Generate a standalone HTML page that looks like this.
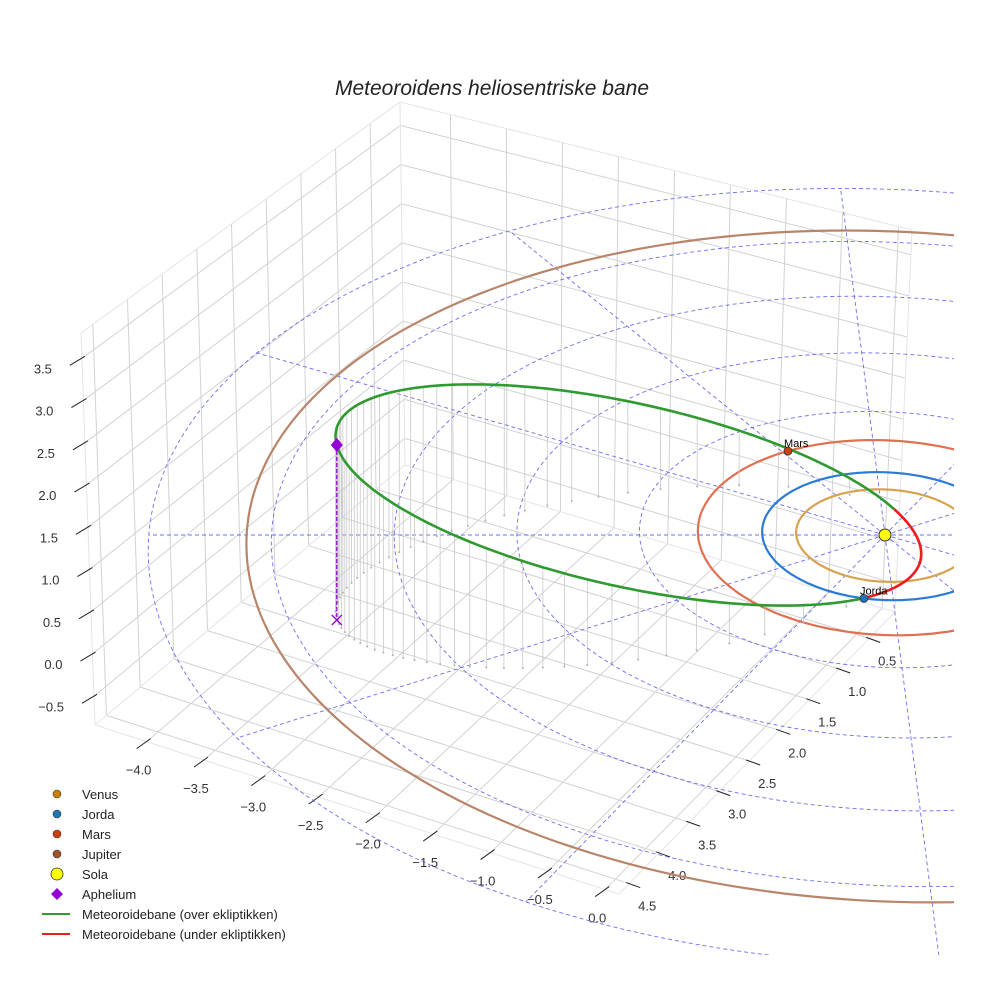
<!DOCTYPE html>
<html><head><meta charset="utf-8">
<style>
html,body{margin:0;padding:0;background:#fff;}
svg{display:block;font-family:"Liberation Sans",sans-serif;}
</style></head>
<body>
<svg id="chart" width="984" height="984" viewBox="0 0 984 984" xmlns="http://www.w3.org/2000/svg">
<defs><clipPath id="plotclip"><rect x="0" y="0" width="954" height="955"/></clipPath></defs>
<text x="492" y="95" text-anchor="middle" font-size="21" font-style="italic" fill="#222">Meteoroidens heliosentriske bane</text>
<g id="box"></g>
<g id="plot" clip-path="url(#plotclip)"></g>
<g id="legend"></g>
</svg>
<script>
// ---- data ----
const planetNames = ["Venus","Jorda","Mars","Jupiter"];
const planetRadii = [0.723, 1.0, 1.524, 5.203];
const planetAngles = [331, 103.5, 241.8, 10];
const planetColors = ["#c8800a","#1f77b4","#cc4010","#a0522d"];
const orbitColors = ["#d6a24e","#2b7bd6","#e07050","#b8856a"];
const gridRadii = [1,2,3,4,5,6];
const gridAngles = [0,30,60,90,120,150,180,210,240,270,300,330];
const aphelionPos = [-4.45, 1.297, 2.01];
const nodePos = [-0.233, 0.967, 0];
const xTicks = [-4.0,-3.5,-3.0,-2.5,-2.0,-1.5,-1.0,-0.5,0.0];
const yTicks = [0.5,1.0,1.5,2.0,2.5,3.0,3.5,4.0,4.5];
const zTicks = [-0.5,0.0,0.5,1.0,1.5,2.0,2.5,3.0,3.5];
const xLim=[-4.45,0.12], yLim=[0.07,4.67], zLim=[-0.84,3.8];

const NS="http://www.w3.org/2000/svg";
function mk(tag, attrs, parent){const e=document.createElementNS(NS,tag);for(const k in attrs)e.setAttribute(k,attrs[k]);parent.appendChild(e);return e;}
const box=document.getElementById('box'), plot=document.getElementById('plot'), legend=document.getElementById('legend');

// ---- box (screen-space corners) ----
const A=[95,725],At=[81,333],D=[405,465],Dt=[400,102],F=[619,894],E=[895,612],Et=[912,230];
const L=(p,q,t)=>[p[0]+(q[0]-p[0])*t,p[1]+(q[1]-p[1])*t];
const ux=x=>(x-xLim[0])/(xLim[1]-xLim[0]);
const vy=y=>(yLim[1]-y)/(yLim[1]-yLim[0]);
const tz=z=>(z-zLim[0])/(zLim[1]-zLim[0]);
function line(p,q,st,w,parent,name){const l=mk('line',{x1:p[0],y1:p[1],x2:q[0],y2:q[1],stroke:st,'stroke-width':w},parent);return l;}
const gc="#d2d2d2";
xTicks.forEach(x=>{const u=ux(x);line(L(A,F,u),L(D,E,u),gc,1,box,'floor-grid-x');});
yTicks.forEach(y=>{const v=vy(y);line(L(A,D,v),L(F,E,v),gc,1,box,'floor-grid-y');});
yTicks.forEach(y=>{const v=vy(y);line(L(A,D,v),L(At,Dt,v),gc,1,box,'left-wall-grid-y');});
zTicks.forEach(z=>{const t=tz(z);line(L(A,At,t),L(D,Dt,t),gc,1,box,'left-wall-grid-z');});
xTicks.forEach(x=>{const u=ux(x);line(L(D,E,u),L(Dt,Et,u),gc,1,box,'back-wall-grid-x');});
zTicks.forEach(z=>{const t=tz(z);line(L(D,Dt,t),L(E,Et,t),gc,1,box,'back-wall-grid-z');});
[[A,F],[F,E],[A,At],[At,Dt],[Dt,Et],[E,Et],[A,D],[D,E],[D,Dt]].forEach(p=>line(p[0],p[1],"#e4e4e4",1,box,'box-edge'));
function label(x,y,txt,anchor,name){const t=mk('text',{x:x,y:y,'font-size':13,fill:'#333','text-anchor':anchor},box);t.textContent=txt;}
const fmt=v=>(v<0?'\u2212':'')+Math.abs(v).toFixed(1);
xTicks.forEach(x=>{const p=L(A,F,ux(x));line([p[0]+4,p[1]-3],[p[0]-10,p[1]+7],"#222",1,box,'x-tick');label(p[0]-8,p[1]+33,fmt(x),'middle','x-tick-label');});
yTicks.forEach(y=>{const p=L(F,E,vy(y));line([p[0]-3,p[1]-1],[p[0]+11,p[1]+4],"#222",1,box,'y-tick');label(p[0]+18,p[1]+27,fmt(y),'middle','y-tick-label');});
zTicks.forEach(z=>{const p=L(A,At,tz(z));line([p[0]+3,p[1]-2],[p[0]-12,p[1]+7],"#222",1,box,'z-tick');label(p[0]-30,p[1]+15,fmt(z),'end','z-tick-label');});

// ---- ecliptic projection ----
const SX=885,SY=535,kx=122.7,ky=64,kz=85,pp=0.018,shear=0.128;
function proj(X,Y,Z){const w=1/(1-pp*Y);return [SX+kx*X*w+shear*ky*Y*w, SY+ky*Y*w-kz*(Z||0)*w];}
function pathFrom(pts){return pts.map((p,i)=>(i?'L':'M')+p[0].toFixed(1)+' '+p[1].toFixed(1)).join(' ');}
function circlePts(r){const a=[];for(let i=0;i<=240;i++){const t=i/240*2*Math.PI;a.push(proj(r*Math.cos(t),r*Math.sin(t),0));}return a;}
gridRadii.forEach(r=>{const p=mk('path',{d:pathFrom(circlePts(r)),fill:'none',stroke:'#5555ee','stroke-width':0.9,'stroke-dasharray':'4 3',opacity:0.85},plot);
});
const rMax=gridRadii[gridRadii.length-1];
gridAngles.forEach(a=>{const t=a*Math.PI/180;const pts=[];for(let i=0;i<=40;i++){const r=rMax*i/40;pts.push(proj(r*Math.cos(t),r*Math.sin(t),0));}
const p=mk('path',{d:pathFrom(pts),fill:'none',stroke:'#5555ee','stroke-width':0.9,'stroke-dasharray':'4 3',opacity:0.85},plot);
});
planetRadii.forEach((r,i)=>{const p=mk('path',{d:pathFrom(circlePts(r)),fill:'none',stroke:orbitColors[i],'stroke-width':2.2},plot);
});

// ---- meteoroid orbit ----
const Qd=Math.hypot(...aphelionPos);
const Ah=aphelionPos.map(v=>v/Qd), P=Ah.map(v=>-v);
const nl=Math.hypot(...nodePos), nh=nodePos.map(v=>v/nl), rn=nl;
const cn=nh[0]*P[0]+nh[1]*P[1]+nh[2]*P[2];
const ecc=(Qd-rn)/(Qd+rn*cn), semiP=Qd*(1-ecc);
let Qv=nh.map((v,i)=>v-cn*P[i]);const ql=Math.hypot(...Qv);Qv=Qv.map(v=>v/ql);
function orbitPt(nu){const r=semiP/(1+ecc*Math.cos(nu));return [0,1,2].map(i=>r*(Math.cos(nu)*P[i]+Math.sin(nu)*Qv[i]));}
const N=720;let seg=null;const segs=[];let prevAbove=null;
for(let i=0;i<=N;i++){const nu=-Math.PI+2*Math.PI*i/N;const q=orbitPt(nu);const above=q[2]>=0;
 if(seg&&prevAbove!==null&&above!==prevAbove){seg.pts.push(proj(...q));segs.push(seg);seg=null;}
 if(!seg)seg={above:above,pts:[]};seg.pts.push(proj(...q));prevAbove=above;}
if(seg)segs.push(seg);
const nDrop=64;
for(let k=0;k<nDrop;k++){const M=2*Math.PI*k/nDrop;let Ea=M;for(let j=0;j<30;j++)Ea=Ea-(Ea-ecc*Math.sin(Ea)-M)/(1-ecc*Math.cos(Ea));
 const nu=2*Math.atan2(Math.sqrt(1+ecc)*Math.sin(Ea/2),Math.sqrt(1-ecc)*Math.cos(Ea/2));const q=orbitPt(nu);if(q[2]<=0.02)continue;
 const a=proj(...q),b=proj(q[0],q[1],0);
 const l=mk('line',{x1:a[0],y1:a[1],x2:b[0],y2:b[1],stroke:'#c8c8c8','stroke-width':0.8},plot);
 
 
 const d=mk('circle',{cx:b[0],cy:b[1],r:1,fill:'#b0b0b0'},plot);
 
 }
segs.forEach(s=>{const p=mk('path',{d:pathFrom(s.pts),fill:'none',stroke:s.above?'#2f9a2f':'#ee1c1c','stroke-width':2.6},plot);
 
 });
const ap=proj(...aphelionPos), ag=proj(aphelionPos[0],aphelionPos[1],0);
const al=mk('line',{x1:ap[0],y1:ap[1],x2:ag[0],y2:ag[1],stroke:'#9400d3','stroke-width':1.3,'stroke-dasharray':'4 2'},plot);


const ax=mk('path',{d:`M${ag[0]-5} ${ag[1]-5}L${ag[0]+5} ${ag[1]+5}M${ag[0]-5} ${ag[1]+5}L${ag[0]+5} ${ag[1]-5}`,stroke:'#9400d3','stroke-width':1.3},plot);


const ad=mk('path',{d:`M${ap[0]} ${ap[1]-7}L${ap[0]+6} ${ap[1]}L${ap[0]} ${ap[1]+7}L${ap[0]-6} ${ap[1]}Z`,fill:'#9400d3'},plot);


const sun=mk('circle',{cx:SX,cy:SY,r:6,fill:'#ffff00',stroke:'#333','stroke-width':1},plot);


planetRadii.forEach((r,i)=>{const t=planetAngles[i]*Math.PI/180;const p=proj(r*Math.cos(t),r*Math.sin(t),0);
 const c=mk('circle',{cx:p[0],cy:p[1],r:4,fill:planetColors[i],stroke:'#333','stroke-width':0.8},plot);
 
 
 const tx=mk('text',{x:p[0]-4,y:p[1]-4,'font-size':11,fill:'#000'},plot);tx.textContent=planetNames[i];
 
 });

// ---- legend ----
const legendLabels=["Venus","Jorda","Mars","Jupiter","Sola","Aphelium","Meteoroidebane (over ekliptikken)","Meteoroidebane (under ekliptikken)"];
legendLabels.forEach((lab,i)=>{const y=794+i*20;const g=mk('g',{},legend);
 
 
 if(i<4){mk('circle',{cx:57,cy:y,r:4,fill:planetColors[i],stroke:'#333','stroke-width':0.6},g);}
 else if(i===4){mk('circle',{cx:57,cy:y,r:6,fill:'#ffff00',stroke:'#333','stroke-width':0.8},g);}
 else if(i===5){mk('path',{d:`M57 ${y-6}L63 ${y}L57 ${y+6}L51 ${y}Z`,fill:'#9400d3'},g);}
 else {mk('line',{x1:42,y1:y,x2:70,y2:y,stroke:i===6?'#2f9a2f':'#ee1c1c','stroke-width':2},g);}
 const t=mk('text',{x:82,y:y+5,'font-size':13,fill:'#222'},g);t.textContent=lab;});
</script>
</body></html>
